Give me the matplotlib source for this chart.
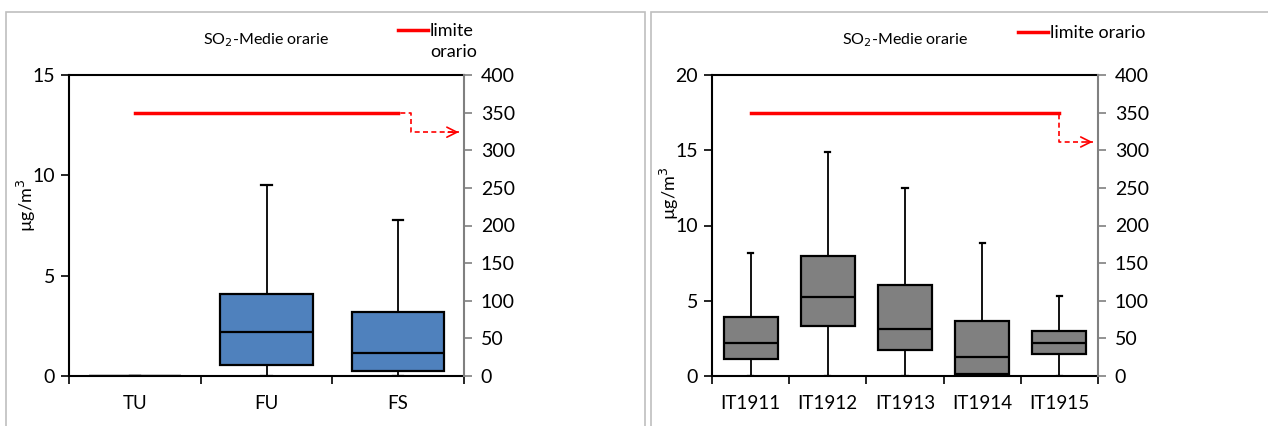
import matplotlib
matplotlib.use("Agg")
import matplotlib.pyplot as plt
from matplotlib.patches import Rectangle
from matplotlib.lines import Line2D

plt.rcParams['font.family'] = ['Lato', 'DejaVu Sans']

# data
left_cats = ['TU', 'FU', 'FS']
left_min = [0, 0, 0]
left_q1 = [0, 0.55, 0.25]
left_med = [0, 2.2, 1.15]
left_q3 = [0, 4.1, 3.2]
left_max = [0, 9.5, 7.75]

right_cats = ['IT1911', 'IT1912', 'IT1913', 'IT1914', 'IT1915']
right_min = [0, 0, 0, 0, 0]
right_q1 = [1.1, 3.35, 1.75, 0.15, 1.45]
right_med = [2.2, 5.25, 3.15, 1.25, 2.2]
right_q3 = [3.9, 7.95, 6.05, 3.65, 3.0]
right_max = [8.15, 14.9, 12.5, 8.85, 5.3]

limite_orario = 350

W, H = 1268, 426
fig = plt.figure(figsize=(W / 100, H / 100), dpi=100)

# panel borders
for x0, x1 in [(6, 645), (651, 1275)]:
    fig.add_artist(Rectangle((x0 / W, -0.1), (x1 - x0) / W, 1.1 - 12 / H,
                             transform=fig.transFigure, fill=False,
                             edgecolor='#bfbfbf', lw=1.2))


def panel(px0, px1, cats, mn, q1, med, q3, mx, color, ymax, yticks,
          dash_start, drop_to, arrow_end, legend_text, legend_xy, ylab_xy):
    ax = fig.add_axes([px0 / W, 1 - 376 / H, (px1 - px0) / W, 301 / H])
    n = len(cats)
    stats = []
    for i in range(n):
        stats.append(dict(whislo=mn[i], q1=q1[i], med=med[i], q3=q3[i],
                          whishi=mx[i], fliers=[]))
    ax.bxp(stats, positions=range(n), widths=0.7, patch_artist=True,
           showfliers=False, capwidths=0.08 * (3 / n) ** 0.3,
           boxprops=dict(facecolor=color, edgecolor='black', lw=1.6),
           medianprops=dict(color='black', lw=1.6),
           whiskerprops=dict(color='black', lw=1.3),
           capprops=dict(color='black', lw=1.6))
    ax.set_xlim(-0.5, n - 0.5)
    ax.set_ylim(0, ymax)
    ax.set_yticks(yticks)
    ax.set_xticks([i - 0.5 for i in range(n + 1)])
    ax.set_xticklabels([])
    ax.set_xticks(range(n), minor=True)
    ax.set_xticklabels(cats, minor=True, fontsize=13.5)
    ax.tick_params(axis='x', which='major', direction='out', length=6, width=1.2)
    ax.tick_params(axis='x', which='minor', length=0, pad=14)
    ax.tick_params(axis='y', direction='out', length=6, width=1.2,
                   labelsize=14, pad=4)
    for s in ['left', 'bottom', 'top']:
        ax.spines[s].set_linewidth(1.5)
    ax.spines['right'].set_visible(False)
    ax.set_ylabel('µg/m$^3$', fontsize=13)
    lx_, ly_ = ylab_xy
    ax.yaxis.set_label_coords((lx_ - px0) / (px1 - px0), (376 - ly_) / 301)
    ax.set_title('SO$_2$-Medie orarie', fontsize=11.5, pad=22)

    ax2 = ax.twinx()
    ax2.set_ylim(0, 400)
    ax2.set_yticks(range(0, 401, 50))
    ax2.spines['right'].set_color('#808080')
    ax2.spines['right'].set_linewidth(1.5)
    for s in ['left', 'bottom', 'top']:
        ax2.spines[s].set_visible(False)
    ax2.tick_params(axis='y', direction='out', length=6, width=1.2,
                    color='#808080', labelsize=14, pad=6)
    ax2.plot([0, n - 1], [limite_orario, limite_orario], color='red', lw=2.5)
    xv = n - 1 + 0.1 * (n == 3)
    ax2.plot([dash_start, xv, xv, arrow_end],
             [limite_orario, limite_orario, drop_to, drop_to],
             color='red', lw=1.2, ls=(0, (3, 2)))
    ax2.annotate('', xy=(arrow_end, drop_to), xytext=(arrow_end - 0.08, drop_to),
                 arrowprops=dict(arrowstyle='->', color='red', lw=1.2,
                                 mutation_scale=18, shrinkA=0, shrinkB=0))

    lx, ly = legend_xy
    fig.add_artist(Line2D([lx / W, (lx + 30) / W], [1 - ly / H, 1 - ly / H],
                          color='red', lw=2.5))
    fig.text((lx + 32) / W, 1 - (ly - 7) / H, legend_text, fontsize=13,
             va='top', ha='left', linespacing=1.35)
    return ax


panel(69, 464, left_cats, left_min, left_q1, left_med, left_q3, left_max,
      '#4F81BD', 15, [0, 5, 10, 15], 1.76, 324, 2.46,
      'limite\norario', (398, 30), (38, 205))
panel(712, 1098, right_cats, right_min, right_q1, right_med, right_q3, right_max,
      '#808080', 20, [0, 5, 10, 15, 20], 3.58, 311, 4.43,
      'limite orario', (1018, 32), (681, 193))

fig.savefig('out.png', dpi=100)
